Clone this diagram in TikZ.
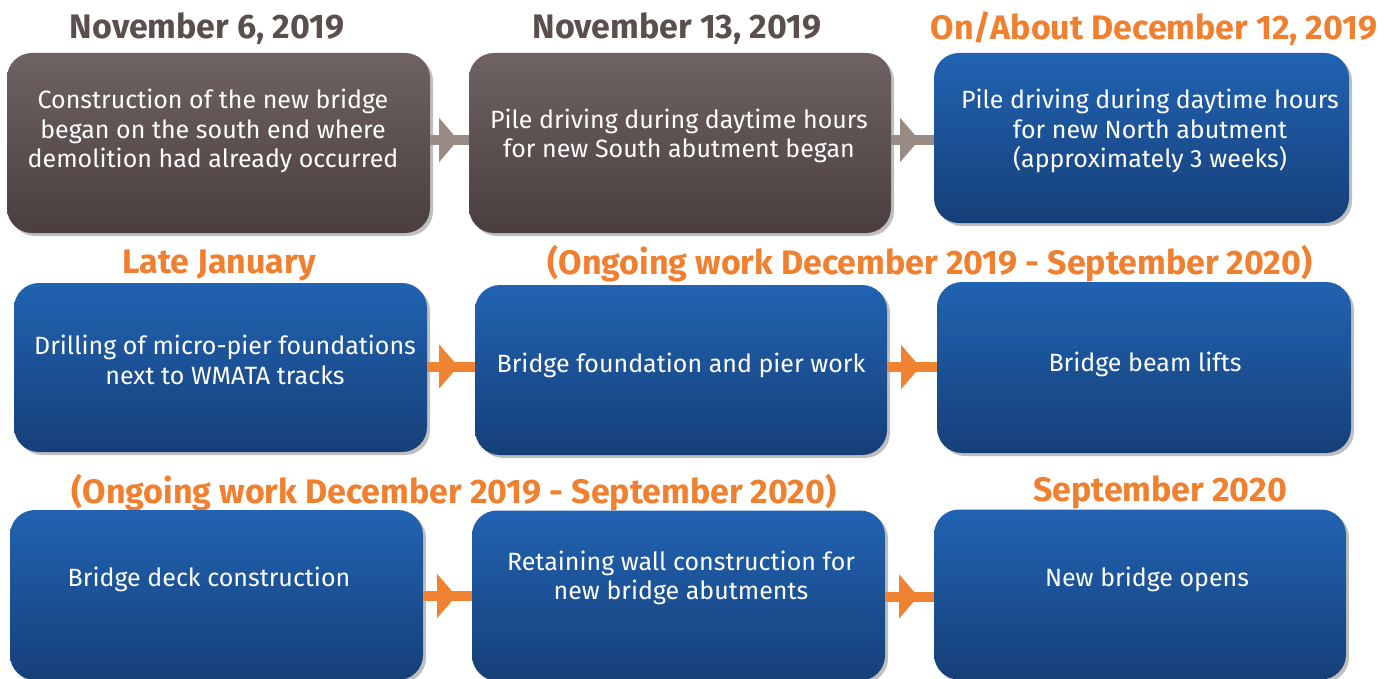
\documentclass[tikz,border=0pt]{standalone}
\usepackage{fontspec}
\setmainfont{Fira Sans}
\usetikzlibrary{shadows,calc}
\definecolor{grayL}{HTML}{6E6362}
\definecolor{grayD}{HTML}{4A3F3E}
\definecolor{blueL}{HTML}{2163B2}
\definecolor{blueD}{HTML}{163F78}
\definecolor{hdrorange}{HTML}{F0802F}
\definecolor{hdrgray}{HTML}{5B4F4E}
\definecolor{arrgray}{HTML}{9A8B85}
\definecolor{arrorange}{HTML}{F08331}
\tikzset{
  box/.style={rounded corners=25pt, inner sep=0pt, shading=axis, shading angle=30,
    drop shadow={shadow xshift=3pt, shadow yshift=-3pt, opacity=0.25, fill=black}},
  graybox/.style={box, top color=grayL, bottom color=grayD},
  bluebox/.style={box, top color=blueL, bottom color=blueD},
  btext/.style={text=white, align=center, font=\fontsize{25}{29.5}\selectfont, inner sep=0pt},
  hdr/.style={font=\fontsize{34}{38}\selectfont\bfseries, inner sep=0pt},
  ghdr/.style={hdr, text=hdrgray},
  ohdr/.style={hdr, text=hdrorange},
  gshaft/.style={draw=arrgray, line width=10pt},
  oshaft/.style={draw=arrorange, line width=10pt},
}
\begin{document}
\begin{tikzpicture}[x=1pt,y=-1pt]
\useasboundingbox (0,0) rectangle (1396,679);
% headers
\node[ghdr] (h1) at (207,29) {November 6, 2019};
\node[ghdr] (h2) at (677,29) {November 13, 2019};
\node[ohdr] (h3) at (1154,29) {On/About December 12, 2019};
\node[ohdr] (h4) at (219,265) {Late January};
\node[ohdr] (h5) at (930,264) {(Ongoing work December 2019 - September 2020)};
\node[ohdr] (h6) at (454,493) {(Ongoing work December 2019 - September 2020)};
\node[ohdr] (h7) at (1160,492) {September 2020};
% boxes
\node[graybox, minimum width=423pt, minimum height=180pt] (b1) at (218.5,143) {};
\node[graybox, minimum width=422pt, minimum height=180pt] (b2) at (680,143) {};
\node[bluebox, minimum width=415pt, minimum height=170pt] (b3) at (1141.5,138) {};
\node[bluebox, minimum width=413pt, minimum height=169pt] (b4) at (220.5,367.5) {};
\node[bluebox, minimum width=412pt, minimum height=170pt] (b5) at (681,370) {};
\node[bluebox, minimum width=414pt, minimum height=171pt] (b6) at (1144,367.5) {};
\node[bluebox, minimum width=413pt, minimum height=170pt] (b7) at (216.5,595) {};
\node[bluebox, minimum width=413pt, minimum height=170pt] (b8) at (678.5,595.5) {};
\node[bluebox, minimum width=412pt, minimum height=170pt] (b9) at (1140,594.5) {};
% texts
\node[btext] (t1) at (213,131) {Construction of the new bridge\\began on the south end where\\demolition had already occurred};
\node[btext] (t2) at (679,136) {Pile driving during daytime hours\\for new South abutment began};
\node[btext] (t3) at (1150,131) {Pile driving during daytime hours\\for new North abutment\\(approximately 3 weeks)};
\node[btext] (t4) at (225,360) {Drilling of micro-pier foundations\\next to WMATA tracks};
\node[btext] (t5) at (681,365) {Bridge foundation and pier work};
\node[btext] (t6) at (1145,364) {Bridge beam lifts};
\node[btext] (t7) at (209,579) {Bridge deck construction};
\node[btext] (t8) at (681,578) {Retaining wall construction for\\new bridge abutments};
\node[btext] (t9) at (1147,579) {New bridge opens};
% arrows row 1
\draw[gshaft] ([yshift=3pt]b1.east) -- ([yshift=3pt]b1.east -| b2.west);
\fill[arrgray] ($(b1.east)+(28,-3)$) -- ++(-19,-22) -- ++(0,44) -- cycle;
\draw[gshaft] ([yshift=3pt]b2.east) -- ([yshift=3pt]b2.east -| b3.west);
\fill[arrgray] ($(b2.east)+(28,-3)$) -- ++(-19,-22) -- ++(0,44) -- cycle;
% arrows row 2
\draw[oshaft] ([yshift=1pt]b4.east) -- ([yshift=1pt]b4.east -| b5.west);
\fill[arrorange] ($(b4.east)+(31,-1)$) -- ++(-19,-22) -- ++(0,44) -- cycle;
\draw[oshaft] ([yshift=3pt]b5.east) -- ([yshift=3pt]b5.east -| b6.west);
\fill[arrorange] ($(b5.east)+(33,-3)$) -- ++(-19,-22) -- ++(0,44) -- cycle;
% arrows row 3
\draw[oshaft] ([yshift=-1pt]b7.east) -- ([yshift=-1pt]b7.east -| b8.west);
\fill[arrorange] ($(b7.east)+(33,1)$) -- ++(-19,-22) -- ++(0,44) -- cycle;
\draw[oshaft] ([yshift=-1pt]b8.east) -- ([yshift=-1pt]b8.east -| b9.west);
\fill[arrorange] ($(b8.east)+(33,1)$) -- ++(-19,-22) -- ++(0,44) -- cycle;
\end{tikzpicture}
\end{document}
